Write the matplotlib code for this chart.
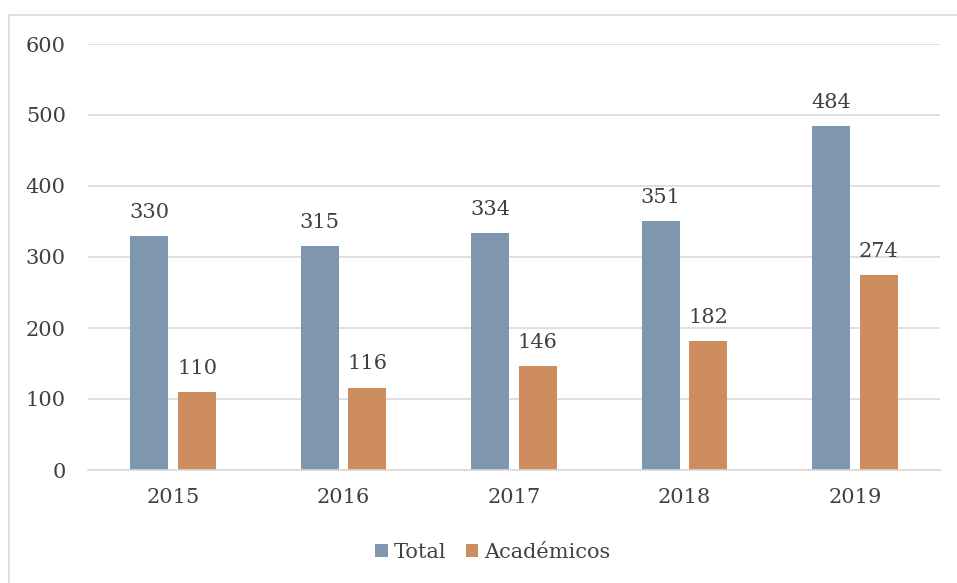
import numpy as np
import matplotlib.pyplot as plt
from matplotlib.patches import Rectangle

# Datos
anios = ["2015", "2016", "2017", "2018", "2019"]
total = [330, 315, 334, 351, 484]
academicos = [110, 116, 146, 182, 274]

plt.rcParams['font.family'] = ['DejaVu Serif']
color_texto = '#404040'

fig = plt.figure(figsize=(9.57, 5.83), dpi=100)
ax = fig.add_axes([88/957, 113/583, 852/957, 426/583])

# borde del gráfico (sale por la derecha y por abajo)
fig.patches.append(Rectangle((9/957, -0.1), 1.2, 568/583 + 0.1, transform=fig.transFigure,
                             fill=False, edgecolor='#d9d9d9', linewidth=1.2))

x = np.arange(len(anios))
ancho = 0.223
b1 = ax.bar(x - 0.14, total, ancho, color='#7f97ae', label='Total')
b2 = ax.bar(x + 0.14, academicos, ancho, color='#cd8d5f', label='Académicos')

for barras in (b1, b2):
    for b in barras:
        ax.text(b.get_x() + b.get_width() / 2, b.get_height() + 20, str(int(b.get_height())),
                ha='center', va='bottom', fontsize=15, color=color_texto)

ax.set_xlim(-0.5, 4.5)
ax.set_ylim(0, 600)
ax.set_yticks(range(0, 601, 100))
ax.set_xticks(x)
ax.set_xticklabels(anios)
ax.grid(axis='y', color='#d9d9d9', linewidth=1.2)
ax.set_axisbelow(True)
for s in ['top', 'right', 'left']:
    ax.spines[s].set_visible(False)
ax.spines['bottom'].set_color('#d9d9d9')
ax.spines['bottom'].set_linewidth(1.2)
ax.tick_params(length=0, labelsize=15, colors=color_texto)
ax.tick_params(axis='y', pad=16)
ax.tick_params(axis='x', pad=13)

fig.legend(handles=[b1, b2], loc='center', bbox_to_anchor=(493/957, 31/583),
           ncol=2, frameon=False, fontsize=15, handlelength=0.6, handleheight=0.6,
           handletextpad=0.3, columnspacing=0.9, labelcolor=color_texto)

plt.savefig('out.png', dpi=100)
